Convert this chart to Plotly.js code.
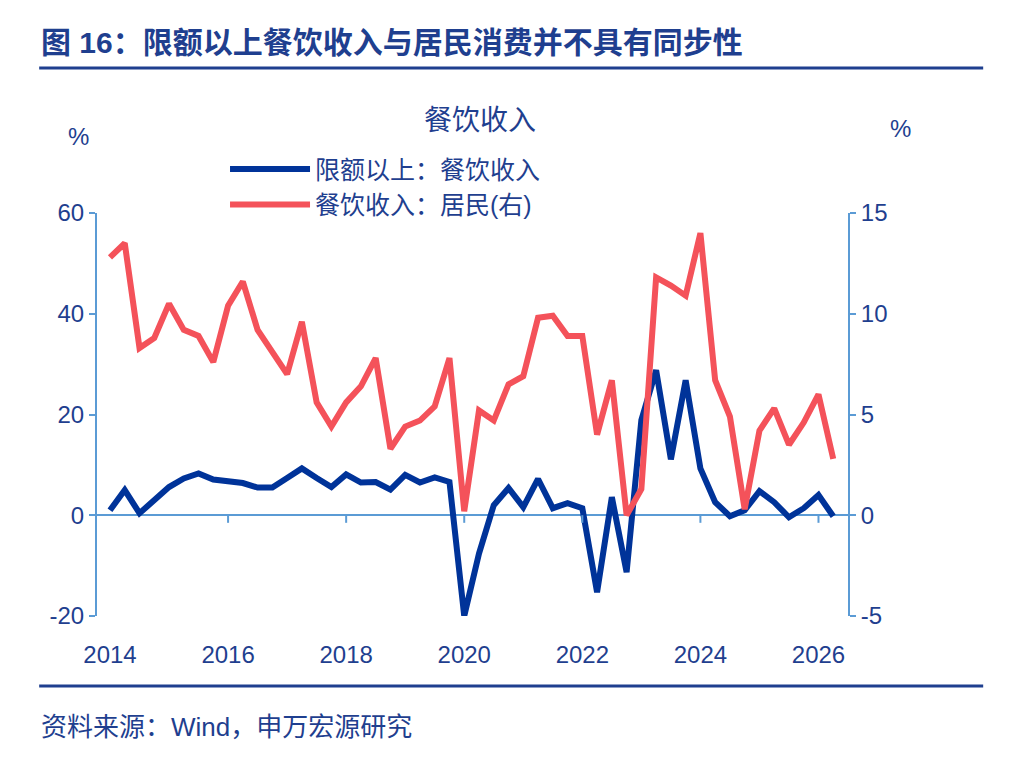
<!DOCTYPE html>
<html>
<head>
<meta charset="utf-8">
<script src="https://cdn.plot.ly/plotly-3.0.1.min.js"></script>
<style>
  body { margin: 0; background: #fff; }
  #graph { width: 1014px; height: 776px; }
</style>
</head>
<body>
<div id="graph"></div>
<script>
/* ----- Data (quarterly) ----- */
var startYear = 2014;
var aboveLimit = [1, 5, 0.4, 3, 5.6, 7.3, 8.3, 7.1, 6.6, 6.4, 5.5, 5.5, 7.4, 9.3, 7.4, 5.6,
    8.1, 6.5, 6.6, 5.1, 8, 6.5, 7.5, 6.6, -20, -7.6, 2, 5.4, 1.6, 7.2, 1.4, 2.4,
    1.4, -15.3, 3.6, -11.3, 18.9, 28.8, 11.1, 26.8, 9.3, 2.6, -0.2, 1, 4.8, 2.6,
    -0.4, 1.4, 4, -0.2];
var residents = [12.8, 13.5, 8.3, 8.8, 10.5, 9.2, 8.9, 7.6, 10.4, 11.6, 9.2, 8.1, 7.0, 9.6, 5.6, 4.4,
    5.6, 6.4, 7.8, 3.3, 4.4, 4.7, 5.4, 7.8, 0.2, 5.2, 4.7, 6.5, 6.9, 9.8, 9.9, 8.9,
    8.9, 4.0, 6.7, 0, 1.3, 11.8, 11.4, 10.9, 14, 6.7, 4.9, 0.3, 4.2, 5.3, 3.5,
    4.6, 6.0, 2.8];
var xTicks = [2014, 2016, 2018, 2020, 2022, 2024, 2026];
var leftTicks = [-20, 0, 20, 40, 60];
var rightTicks = [-5, 0, 5, 10, 15];

var xs = aboveLimit.map(function(_, i) { return startYear + i * 0.25; });

var axisColor = '#5B9BD5';
var textColor = '#1F3F8F';
var font = 'Arial, "Liberation Sans", "Noto Sans CJK SC", sans-serif';

var data = [
    {
        x: xs, y: aboveLimit, mode: 'lines', name: '限额以上：餐饮收入',
        line: {color: '#003399', width: 6}
    },
    {
        x: xs, y: residents, mode: 'lines', name: '餐饮收入：居民(右)', yaxis: 'y2',
        line: {color: '#F4525A', width: 6}
    }
];

var tickShapes = xTicks.slice(1).map(function(t) {
    return {type: 'line', xref: 'x', yref: 'y', x0: t, x1: t, y0: 0, y1: -1.5,
        line: {color: axisColor, width: 2}};
});

function paperAnn(text, x, y, size, xanchor) {
    return {text: text, xref: 'paper', yref: 'paper', x: x, y: y, showarrow: false,
        xanchor: xanchor || 'center', yanchor: 'middle', font: {size: size, color: textColor}};
}

var layout = {
    width: 1014, height: 776,
    paper_bgcolor: '#fff', plot_bgcolor: '#fff',
    font: {family: font, color: textColor, size: 24},
    margin: {l: 97, r: 166, t: 213, b: 160},
    showlegend: true,
    legend: {orientation: 'h', x: 0.52, xanchor: 'center', y: 1.065, yanchor: 'middle',
        font: {size: 25, color: textColor}, itemwidth: 80, entrywidth: 430},
    xaxis: {range: [2013.78, 2026.5], tickvals: xTicks, showgrid: false, zeroline: false,
        showline: false, ticks: '', ticklabelstandoff: 22, tickfont: {size: 24, color: textColor}},
    yaxis: {range: [-20, 60], tickvals: leftTicks, ticktext: leftTicks.map(String),
        showgrid: false, showline: true, linecolor: axisColor,
        linewidth: 2, ticks: 'outside', tickcolor: axisColor, ticklen: 6, tickwidth: 2,
        zeroline: true, zerolinecolor: axisColor, zerolinewidth: 2,
        tickfont: {size: 24, color: textColor}},
    yaxis2: {range: [-5, 15], tickvals: rightTicks, ticktext: rightTicks.map(String),
        overlaying: 'y', side: 'right', showgrid: false,
        showline: true, linecolor: axisColor, linewidth: 2, ticks: 'outside',
        tickcolor: axisColor, ticklen: 6, tickwidth: 2, zeroline: false,
        tickfont: {size: 24, color: textColor}},
    shapes: tickShapes.concat([
        {type: 'line', xref: 'paper', yref: 'paper', x0: -0.077, x1: 1.18, y0: 1.36, y1: 1.36,
            line: {color: '#1F3F8F', width: 3}},
        {type: 'line', xref: 'paper', yref: 'paper', x0: -0.077, x1: 1.18, y0: -0.174, y1: -0.174,
            line: {color: '#1F3F8F', width: 3}}
    ]),
    annotations: [
        paperAnn('<b>图 16：限额以上餐饮收入与居民消费并不具有同步性</b>', -0.077, 1.424, 30, 'left'),
        paperAnn('餐饮收入', 0.51, 1.23, 28),
        paperAnn('%', -0.025, 1.19, 24),
        paperAnn('%', 1.07, 1.21, 24),
        paperAnn('资料来源：Wind，申万宏源研究', -0.077, -0.275, 26, 'left')
    ]
};

Plotly.newPlot('graph', data, layout, {staticPlot: true});
</script>
</body>
</html>
